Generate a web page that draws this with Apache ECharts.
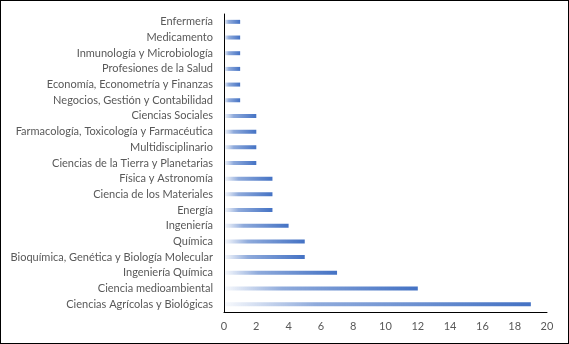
<!DOCTYPE html>
<html>
<head>
<meta charset="utf-8">
<script src="https://cdn.jsdelivr.net/npm/echarts@6/dist/echarts.min.js"></script>
<style>
  html, body { margin: 0; padding: 0; background: #fff; }
  #chart { width: 569px; height: 344px; box-sizing: border-box; border: 1px solid #000; }
</style>
</head>
<body>
<div id="chart"></div>
<script>
// categories from bottom to top (as in the y axis)
const categories = [
  'Ciencias Agrícolas y Biológicas',
  'Ciencia medioambiental',
  'Ingeniería Química',
  'Bioquímica, Genética y Biología Molecular',
  'Química',
  'Ingeniería',
  'Energía',
  'Ciencia de los Materiales',
  'Física y Astronomía',
  'Ciencias de la Tierra y Planetarias',
  'Multidisciplinario',
  'Farmacología, Toxicología y Farmacéutica',
  'Ciencias Sociales',
  'Negocios, Gestión y Contabilidad',
  'Economía, Econometría y Finanzas',
  'Profesiones de la Salud',
  'Inmunología y Microbiología',
  'Medicamento',
  'Enfermería'
];
const values = [19, 12, 7, 5, 5, 4, 3, 3, 3, 2, 2, 2, 2, 1, 1, 1, 1, 1, 1];
const xTicks = [0, 2, 4, 6, 8, 10, 12, 14, 16, 18, 20];

const chart = echarts.init(document.getElementById('chart'));
const font = 'Lato, "Open Sans", sans-serif';

const option = {
  animation: false,
  grid: { left: 223, right: 21, top: 13, bottom: 31, containLabel: false },
  xAxis: {
    type: 'value',
    min: xTicks[0],
    max: xTicks[xTicks.length - 1],
    interval: 2,
    axisLine: { show: true, lineStyle: { color: '#000', width: 1 } },
    axisTick: { show: false },
    splitLine: { show: false },
    axisLabel: { color: '#595959', fontSize: 11, fontFamily: font, margin: 9 }
  },
  yAxis: {
    type: 'category',
    data: categories,
    axisLine: { show: true, lineStyle: { color: '#000', width: 1 } },
    axisTick: { show: false },
    axisLabel: { color: '#595959', fontSize: 11, fontFamily: font, margin: 11 }
  },
  series: [{
    type: 'bar',
    data: values,
    barWidth: 4,
    itemStyle: {
      color: new echarts.graphic.LinearGradient(0, 0, 1, 0, [
        { offset: 0, color: 'rgba(68,114,196,0.03)' },
        { offset: 0.3, color: 'rgba(68,114,196,0.6)' },
        { offset: 1, color: 'rgba(68,114,196,1)' }
      ])
    }
  }]
};
chart.setOption(option);
</script>
</body>
</html>
